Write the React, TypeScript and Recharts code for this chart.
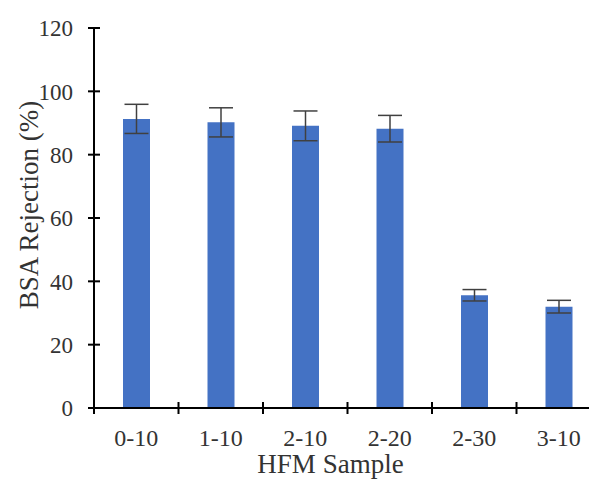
import React from "react";
import { BarChart, Bar, XAxis, YAxis, ErrorBar, Label } from "recharts";

const categories = ["0-10", "1-10", "2-10", "2-20", "2-30", "3-10"];
const rejection = [91.3, 90.2, 89.1, 88.2, 35.6, 32.0];
const errors = [4.6, 4.6, 4.7, 4.2, 1.8, 2.0];
const yTicks = [0, 20, 40, 60, 80, 100, 120];

const data = categories.map((c, i) => ({ name: c, value: rejection[i], err: errors[i] }));

const W = 600;
const H = 471;
const MARGIN = { top: 20, right: 7, bottom: 0, left: 0 };
const Y_AXIS_W = 86;
const X_AXIS_H = 71;
const PLOT_W = W - MARGIN.left - MARGIN.right - Y_AXIS_W;
const HALF_BAND = PLOT_W / categories.length / 2;
const FONT = "Liberation Serif, Times New Roman, DejaVu Serif, serif";
const TEXT = "#333333";

const YTick = (props: any) => {
  const { x, y, payload } = props;
  return (
    <g>
      <line x1={x - 6} x2={x + 6} y1={y} y2={y} stroke="#000" strokeWidth={2} />
      <text x={x - 21} y={y} dy="0.36em" textAnchor="end" style={{ fontFamily: FONT, fontSize: 23 }} fill={TEXT}>
        {payload.value}
      </text>
    </g>
  );
};

const XTick = (props: any) => {
  const { x, y, payload, index } = props;
  const half = HALF_BAND;
  return (
    <g>
      <line x1={x - half} x2={x - half} y1={y - 6} y2={y + 6} stroke="#000" strokeWidth={2} />
      {index === categories.length - 1 && (
        <line x1={x + half} x2={x + half} y1={y - 6} y2={y + 6} stroke="#000" strokeWidth={2} />
      )}
      <text x={x} y={y + 29} dy="0.36em" textAnchor="middle" style={{ fontFamily: FONT, fontSize: 24 }} fill={TEXT}>
        {payload.value}
      </text>
    </g>
  );
};

const YTitle = (props: any) => {
  const vb = props.viewBox || { x: 0, y: 0, width: 0, height: 0 };
  const cx = vb.x + 21;
  const cy = vb.y + vb.height / 2 - 13;
  return (
    <text x={cx} y={cy} transform={`rotate(-90 ${cx} ${cy})`} textAnchor="middle" dominantBaseline="central"
      style={{ fontFamily: FONT, fontSize: 27 }} fill={TEXT}>
      BSA Rejection (%)
    </text>
  );
};

const XTitle = (props: any) => {
  const vb = props.viewBox || { x: 0, y: 0, width: 0, height: 0 };
  const cx = vb.x + vb.width / 2 - 17;
  const cy = vb.y + 65;
  return (
    <text x={cx} y={cy} textAnchor="middle" style={{ fontFamily: FONT, fontSize: 27 }} fill={TEXT}>
      HFM Sample
    </text>
  );
};

export default function App() {
  return (
    <div style={{ width: W, height: H, background: "#fff" }}>
      <BarChart width={W} height={H} data={data} margin={MARGIN} barCategoryGap={0}>
        <XAxis
          dataKey="name"
          height={X_AXIS_H}
          axisLine={{ stroke: "#000", strokeWidth: 2 }}
          tickLine={false}
          tickSize={0}
          tickMargin={0}
          tick={<XTick />}
          interval={0}
        >
          <Label content={<XTitle />} />
        </XAxis>
        <YAxis
          width={Y_AXIS_W}
          domain={[0, 120]}
          ticks={yTicks}
          axisLine={{ stroke: "#000", strokeWidth: 2 }}
          tickLine={false}
          tickSize={0}
          tickMargin={0}
          tick={<YTick />}
          interval={0}
        >
          <Label content={<YTitle />} />
        </YAxis>
        <Bar dataKey="value" fill="#4472C4" barSize={27} isAnimationActive={false}>
          <ErrorBar dataKey="err" width={12} stroke="#404040" strokeWidth={1.5} />
        </Bar>
      </BarChart>
    </div>
  );
}
